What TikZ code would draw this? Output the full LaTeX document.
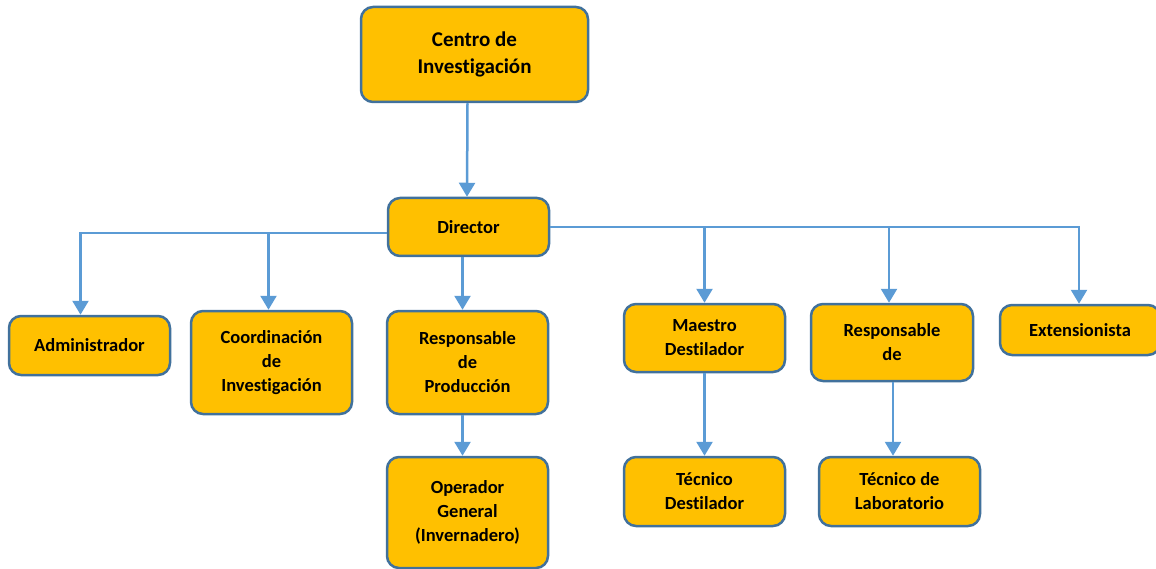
\documentclass[tikz,border=0pt]{standalone}
\usepackage{fontspec}
\setmainfont{Carlito}[Ligatures=NoCommon]
\usetikzlibrary{arrows.meta}
\definecolor{boxfill}{HTML}{FFC000}
\definecolor{boxline}{HTML}{41719C}
\definecolor{linkblue}{HTML}{5B9BD5}

\begin{document}
\begin{tikzpicture}
  [x=1pt,y=-1pt,
   every node/.style={draw=boxline,fill=boxfill,line width=2.5pt,rounded corners=12pt,
     align=center,font=\bfseries\fontsize{18.5}{24}\selectfont,minimum width=161pt,inner sep=2pt},
   link/.style={draw=linkblue,line width=2.5pt,-{Triangle[width=16pt,length=14pt]}}]
  \useasboundingbox (0,0) rectangle (1156,569);
  \node[minimum width=227pt,minimum height=95pt,font=\bfseries\fontsize{21}{27}\selectfont]
    (cen) at (474.5,54.5) {Centro de\\Investigación};
  \node[minimum height=58pt] (dir) at (468.5,227) {Director};
  \node[minimum height=59pt] (adm) at (89.5,345.5) {Administrador};
  \node[minimum height=103pt] (coi) at (271.5,362.5) {Coordinación\\de\\Investigación};
  \node[minimum height=103pt] (rp) at (467.5,362.5) {Responsable\\de\\Producción};
  \node[minimum height=111pt] (op) at (467.5,512.5) {Operador\\General\\(Invernadero)};
  \node[minimum height=68pt] (md) at (704.5,338) {Maestro\\Destilador};
  \node[minimum height=77pt,minimum width=162pt] (rd) at (892,342.5) {Responsable\\de};
  \node[minimum height=50pt,minimum width=160pt] (ext) at (1080,330) {Extensionista};
  \node[minimum height=69pt] (td) at (704.5,491.5) {Técnico\\Destilador};
  \node[minimum height=69pt] (tl) at (899.5,491.5) {Técnico de\\Laboratorio};

  \draw[link] ([xshift=-7pt]cen.south) -- ([xshift=-1.5pt]dir.north);
  \foreach \to/\dx in {adm/-9,coi/-3}
    \draw[link] ([yshift=-6pt]dir.west) -| ([xshift=\dx pt]\to.north);
  \foreach \to/\dx in {md/0,rd/-3,ext/-1}
    \draw[link] (dir.east) -| ([xshift=\dx pt]\to.north);
  \draw[link] ([xshift=-6pt]dir.south) -- ([xshift=-5pt]rp.north);
  \draw[link] ([xshift=-5pt]rp.south) -- ([xshift=-5pt]op.north);
  \draw[link] (md) -- (td);
  \draw[link] ([xshift=1pt]rd.south) -- ([xshift=1pt]rd.south |- tl.north);
\end{tikzpicture}
\end{document}
